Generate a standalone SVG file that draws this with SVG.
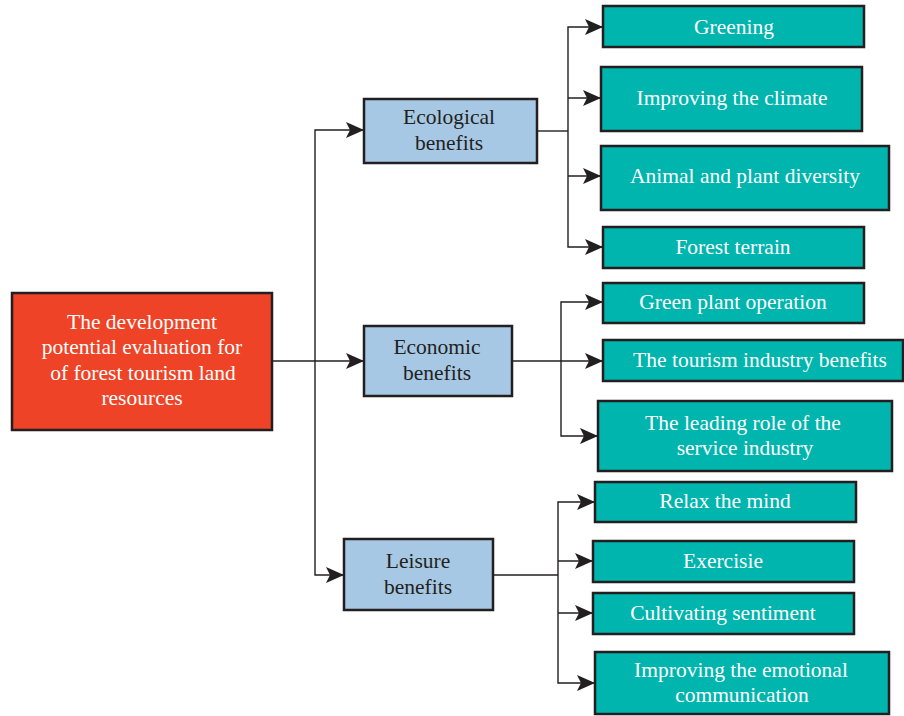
<svg xmlns="http://www.w3.org/2000/svg" width="904" height="716" viewBox="0 0 904 716">
<style>
.box{stroke:#231F20;stroke-width:2.5}
.root{fill:#EE4326}
.mid{fill:#A7C8E4}
.leaf{fill:#00B5AD}
text{font-family:"Liberation Serif","Times New Roman",serif;font-size:21.5px;text-anchor:middle}
.w{fill:#FFFFFF}
.d{fill:#231F20}
.c{fill:none;stroke:#231F20;stroke-width:1.4}
</style>
<defs>
<marker id="ah" markerUnits="userSpaceOnUse" markerWidth="18" markerHeight="18" viewBox="0 0 18 18" refX="18" refY="9" orient="auto">
<path d="M0,1 L18,9 L0,17 L4,9 Z" fill="#231F20"/>
</marker>
</defs>
<rect width="904" height="716" fill="#FFFFFF"/>
<g id="connectors">
<path class="c" d="M272,361 H364" marker-end="url(#ah)"/>
<path class="c" d="M315,361 V130 H364" marker-end="url(#ah)"/>
<path class="c" d="M315,361 V575 H344" marker-end="url(#ah)"/>
<path class="c" d="M537,131 H568"/>
<path class="c" d="M568,131 V27 H603" marker-end="url(#ah)"/>
<path class="c" d="M568,98 H601" marker-end="url(#ah)"/>
<path class="c" d="M568,176 H601" marker-end="url(#ah)"/>
<path class="c" d="M568,131 V247 H603" marker-end="url(#ah)"/>
<path class="c" d="M512,361 H603" marker-end="url(#ah)"/>
<path class="c" d="M561,361 V302 H603" marker-end="url(#ah)"/>
<path class="c" d="M561,361 V436 H598" marker-end="url(#ah)"/>
<path class="c" d="M493,575 H558"/>
<path class="c" d="M558,575 V502 H595" marker-end="url(#ah)"/>
<path class="c" d="M558,561 H593" marker-end="url(#ah)"/>
<path class="c" d="M558,613 H593" marker-end="url(#ah)"/>
<path class="c" d="M558,575 V683 H595" marker-end="url(#ah)"/>
</g>
<g id="root">
<rect class="box root" x="12" y="293" width="260" height="137"/>
<text class="w" x="142" y="329">The development</text>
<text class="w" x="142" y="354">potential evaluation for</text>
<text class="w" x="143" y="380">of forest tourism land</text>
<text class="w" x="142" y="405">resources</text>
</g>
<g id="ecological">
<rect class="box mid" x="364" y="99" width="173" height="64"/>
<text class="d" x="449" y="124">Ecological</text>
<text class="d" x="449" y="150">benefits</text>
</g>
<g id="economic">
<rect class="box mid" x="364" y="326" width="148" height="70"/>
<text class="d" x="437" y="354">Economic</text>
<text class="d" x="437" y="380">benefits</text>
</g>
<g id="leisure">
<rect class="box mid" x="344" y="539" width="149" height="71"/>
<text class="d" x="418" y="568">Leisure</text>
<text class="d" x="418" y="594">benefits</text>
</g>
<g id="greening">
<rect class="box leaf" x="603" y="6" width="261" height="41"/>
<text class="w" x="734" y="34">Greening</text>
</g>
<g id="climate">
<rect class="box leaf" x="601" y="67" width="261" height="64"/>
<text class="w" x="732" y="105">Improving the climate</text>
</g>
<g id="diversity">
<rect class="box leaf" x="601" y="146" width="288" height="64"/>
<text class="w" x="745" y="183">Animal and plant diversity</text>
</g>
<g id="terrain">
<rect class="box leaf" x="603" y="227" width="261" height="41"/>
<text class="w" x="733" y="254">Forest terrain</text>
</g>
<g id="greenplant">
<rect class="box leaf" x="603" y="283" width="261" height="40"/>
<text class="w" x="733" y="309">Green plant operation</text>
</g>
<g id="tourism">
<rect class="box leaf" x="603" y="340" width="300" height="41"/>
<text class="w" x="760" y="367">The tourism industry benefits</text>
</g>
<g id="service">
<rect class="box leaf" x="598" y="401" width="294" height="70"/>
<text class="w" x="743" y="430">The leading role of the</text>
<text class="w" x="745" y="455">service industry</text>
</g>
<g id="relax">
<rect class="box leaf" x="595" y="482" width="261" height="40"/>
<text class="w" x="725" y="508">Relax the mind</text>
</g>
<g id="exercise">
<rect class="box leaf" x="593" y="541" width="261" height="41"/>
<text class="w" x="723" y="568">Exercisie</text>
</g>
<g id="sentiment">
<rect class="box leaf" x="593" y="593" width="261" height="41"/>
<text class="w" x="723" y="620">Cultivating sentiment</text>
</g>
<g id="emotional">
<rect class="box leaf" x="595" y="652" width="294" height="62"/>
<text class="w" x="741" y="677">Improving the emotional</text>
<text class="w" x="742" y="702">communication</text>
</g>
</svg>
